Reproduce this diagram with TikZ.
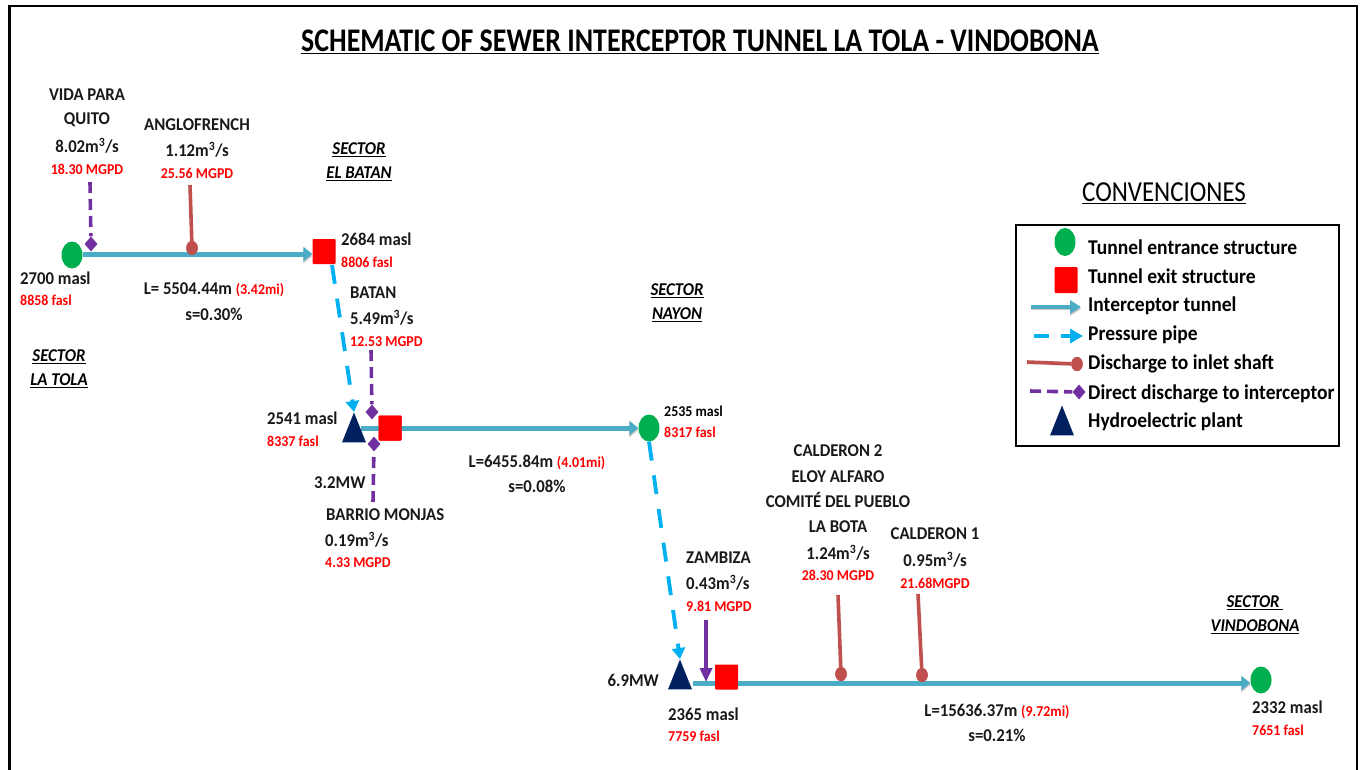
\documentclass[tikz,border=0pt]{standalone}
\usepackage{fontspec}
\setmainfont[FakeStretch=0.93]{Carlito}
\newfontfamily\titlefont[FakeStretch=0.845]{Carlito}
\newfontfamily\convfont[FakeStretch=0.86]{Carlito}
\usetikzlibrary{arrows.meta,shapes.geometric}
\definecolor{tun}{HTML}{4BACC6}
\definecolor{pip}{HTML}{00B0F0}
\definecolor{dis}{HTML}{C0504D}
\definecolor{dir}{HTML}{7030A0}
\definecolor{grn}{HTML}{00B050}
\definecolor{nav}{HTML}{002060}
\tikzset{
 lab/.style={inner sep=0pt,align=center,font=\fontsize{18}{21}\selectfont\bfseries,text=black!90},
 red13/.style={inner sep=0pt,align=center,font=\fontsize{15}{16}\selectfont\bfseries,text=red},
 sect/.style={inner sep=0pt,align=center,font=\fontsize{18}{24}\selectfont\bfseries\itshape},
 leg/.style={inner sep=0pt,anchor=west,font=\fontsize{21}{24}\selectfont\bfseries},
 entr/.style={ellipse,fill=grn,minimum width=21pt,minimum height=27pt,inner sep=0pt},
 exitb/.style={rectangle,fill=red,minimum width=23pt,minimum height=25pt,inner sep=0pt,rounded corners=1pt},
 plant/.style={isosceles triangle,isosceles triangle apex angle=52,isosceles triangle stretches,shape border rotate=90,anchor=apex,fill=nav,minimum height=30pt,minimum width=24pt,inner sep=0pt},
 shad/.style={preaction={draw=black!22,transform canvas={yshift=-2pt}}},
 tunnel/.style={shad,draw=tun,line width=5pt,-{Triangle[length=9pt,width=14pt]}},
 tunnelp/.style={shad,draw=tun,line width=5pt},
 pipe/.style={draw=pip,line width=3.8pt,dash pattern=on 19pt off 15pt,-{Triangle[length=11pt,width=13pt]}},
 dischg/.style={shad,draw=dis,line width=3.6pt},
 direct/.style={draw=dir,line width=3.6pt,dash pattern=on 11pt off 6pt},
 dknob/.style={ellipse,fill=dis,minimum width=11.5pt,minimum height=14pt,inner sep=0pt},
 dia/.style={diamond,fill=dir,minimum width=13pt,minimum height=15pt,inner sep=0pt},
}
\newcommand{\redm}[1]{{\color{red}\fontsize{15}{16}\selectfont #1}}
\begin{document}
\begin{tikzpicture}[x=1pt,y=-1pt]
\useasboundingbox (0,0) rectangle (1364,770);
\draw[line width=2.5pt] (9.5,770) -- (9.5,6) -- (1357,6) -- (1357,770);
\node[inner sep=0pt,font=\titlefont\fontsize{33}{36}\selectfont\bfseries] (title) at (700,41.5) {\underline{SCHEMATIC OF SEWER INTERCEPTOR TUNNEL LA TOLA - VINDOBONA}};

% first reach
\node[entr] (e1) at (72,255) {};
\node[exitb] (x1) at (324,251.5) {};
\coordinate (c1) at (90,182);
\coordinate (c2) at (190,185);
\coordinate (ta) at (83,254);
\draw[tunnel] (ta) -- (x1.west |- ta);
\node[dknob] (k1) at (192,248) {};
\node[dia] (d1) at (91,244) {};
\draw[direct] (c1) -- (d1);
\draw[dischg] (c2) -- (k1);
\node[dknob] at (k1) {};
\node[lab] (t1) at (87,108) {VIDA PARA\\[3pt]QUITO};
\node[lab] (t2) at (87,146) {8.02m\textsuperscript{3}/s};
\node[red13] (t3) at (87,169) {18.30 MGPD};
\node[lab] (t4) at (197,125) {ANGLOFRENCH};
\node[lab] (t5) at (197,150) {1.12m\textsuperscript{3}/s};
\node[red13] (t6) at (197,173) {25.56 MGPD};
\node[sect] (s1) at (359,162) {\underline{SECTOR}\\\underline{EL BATAN}};
\node[lab,anchor=west] (t7) at (341,239) {2684 masl};
\node[red13,anchor=west] (t8) at (341,262) {8806 fasl};
\node[lab,anchor=west] (t9) at (20,278) {2700 masl};
\node[red13,anchor=west] (t10) at (20,300) {8858 fasl};
\node[lab] (t11) at (214,290) {L= 5504.44m \redm{(3.42mi)}};
\node[lab] (t12) at (214,314) {s=0.30\%};
\node[sect] (s2) at (59,369) {\underline{SECTOR}\\\underline{LA TOLA}};

% second reach
\coordinate (xb) at (361,428);
\node[exitb] (x2) at (390,428) {};
\node[entr] (e2) at (649,428) {};
\draw[tunnelp] (xb) -- (x2.center);
\draw[tunnel] (x2.center) -- (e2);
\node[exitb] at (x2) {};
\node[plant] (p1) at (354,412) {};
\node[dia] (d2) at (372,412) {};
\node[dia] (d3) at (374,444) {};
\coordinate (c3) at (371,350);
\coordinate (c4) at (373,502);
\coordinate (xa) at (332,265);
\draw[direct] (c3) -- (d2);
\draw[direct] (c4) -- (d3);
\draw[pipe] (xa) -- (p1.apex);
\node[lab,anchor=west] (t13) at (350,293) {BATAN};
\node[lab,anchor=west] (t14) at (350,318) {5.49m\textsuperscript{3}/s};
\node[red13,anchor=west] (t15) at (350,342) {12.53 MGPD};
\node[lab,anchor=west] (t16) at (267,418) {2541 masl};
\node[red13,anchor=west] (t17) at (267,441) {8337 fasl};
\node[lab,anchor=west] (t18) at (314,483) {3.2MW};
\node[lab,anchor=west] (t19) at (326,515) {BARRIO MONJAS};
\node[lab,anchor=west] (t20) at (325,540) {0.19m\textsuperscript{3}/s};
\node[red13,anchor=west] (t21) at (325,563) {4.33 MGPD};
\node[sect] (s3) at (677,303) {\underline{SECTOR}\\\underline{NAYON}};
\node[inner sep=0pt,anchor=west,font=\fontsize{15}{16}\selectfont\bfseries] (t22) at (664,411) {2535 masl};
\node[red13,anchor=west] (t23) at (664,432) {8317 fasl};
\node[lab] (t24) at (537,462) {L=6455.84m \redm{(4.01mi)}};
\node[lab] (t25) at (537,486) {s=0.08\%};

% third reach
\node[exitb] (x3) at (726.5,677) {};
\node[entr] (e3) at (1261,680) {};
\coordinate (c5) at (706,620);
\coordinate (c6) at (838,595);
\coordinate (c7) at (918,594);
\coordinate (c8) at (706,682);
\coordinate (c9) at (693,683);
\draw[tunnelp] (c9) -- (x3.west |- c9);
\draw[tunnel] (x3.east |- c9) -- (e3.west |- c9);
\node[plant] (p2) at (680,659) {};
\node[dknob] (k2) at (841,674) {};
\node[dknob] (k3) at (922,675) {};
\draw[pipe] (e2.south) -- (p2.apex);
\draw[draw=dir,line width=3.6pt,-{Triangle[length=14pt,width=12pt]}] (c5) -- (c8);
\draw[dischg] (c6) -- (k2);
\draw[dischg] (c7) -- (k3);
\node[dknob] at (k2) {};
\node[dknob] at (k3) {};
\node[lab,anchor=west] (t26) at (686,558) {ZAMBIZA};
\node[lab,anchor=west] (t27) at (686,583) {0.43m\textsuperscript{3}/s};
\node[red13,anchor=west] (t28) at (686,606) {9.81 MGPD};
\node[lab,anchor=east] (t29) at (659,680) {6.9MW};
\node[lab,anchor=west] (t30) at (668,714) {2365 masl};
\node[red13,anchor=west] (t31) at (668,736) {7759 fasl};
\node[lab,font=\fontsize{18}{25.4}\selectfont\bfseries] (t32) at (838,489) {CALDERON 2\\ELOY ALFARO\\COMITÉ DEL PUEBLO\\LA BOTA};
\node[lab] (t33) at (838,553) {1.24m\textsuperscript{3}/s};
\node[red13] (t34) at (838,575) {28.30 MGPD};
\node[lab] (t35) at (935,534) {CALDERON 1};
\node[lab] (t36) at (935,560) {0.95m\textsuperscript{3}/s};
\node[red13] (t37) at (935,583) {21.68MGPD};
\node[lab] (t38) at (997,711) {L=15636.37m \redm{(9.72mi)}};
\node[lab] (t39) at (997,735) {s=0.21\%};
\node[sect] (s4) at (1255,615) {\underline{SECTOR\ }\\\underline{VINDOBONA}};
\node[lab,anchor=west] (t40) at (1252,707) {2332 masl};
\node[red13,anchor=west] (t41) at (1252,730) {7651 fasl};

% legend
\node[inner sep=0pt,font=\convfont\fontsize{29}{32}\selectfont] (lt) at (1164,193) {\underline{CONVENCIONES}};
\node[draw,line width=2pt,minimum width=323pt,minimum height=221pt,inner sep=0pt] (lb) at (1177.5,335.5) {};
\node[entr,minimum height=28pt] (l1) at (1065,242) {};
\node[leg] (g1) at (1088,247) {Tunnel entrance structure};
\node[exitb,minimum height=26pt] (l2) at (1066,280) {};
\node[leg] (g2) at (1088,276) {Tunnel exit structure};
\coordinate (l3a) at (1031,307);
\coordinate (l3b) at (1081,307);
\draw[tunnel,line width=4.5pt,-{Triangle[length=11pt,width=13pt]}] (l3a) -- (l3b);
\node[leg] (g3) at (1088,306) {Interceptor tunnel};
\coordinate (l4a) at (1034,336);
\coordinate (l4b) at (1083,336);
\draw[pip,line width=4pt,dash pattern=on 15pt off 12pt,-{Triangle[length=13pt,width=14pt]}] (l4a) -- (l4b);
\node[leg] (g4) at (1088,335) {Pressure pipe};
\node[dknob] (l5) at (1077,364) {};
\coordinate (l5a) at (1027,362);
\draw[dischg] (l5a) -- (l5);
\node[dknob] at (l5) {};
\node[leg] (g5) at (1088,364) {Discharge to inlet shaft};
\node[dia] (l6) at (1079,392) {};
\coordinate (l6a) at (1030,391);
\draw[direct] (l6a) -- (l6);
\node[leg] (g6) at (1088,394) {Direct discharge to interceptor};
\node[plant] (l7) at (1062,405) {};
\node[leg] (g7) at (1088,422) {Hydroelectric plant};
\end{tikzpicture}
\end{document}
